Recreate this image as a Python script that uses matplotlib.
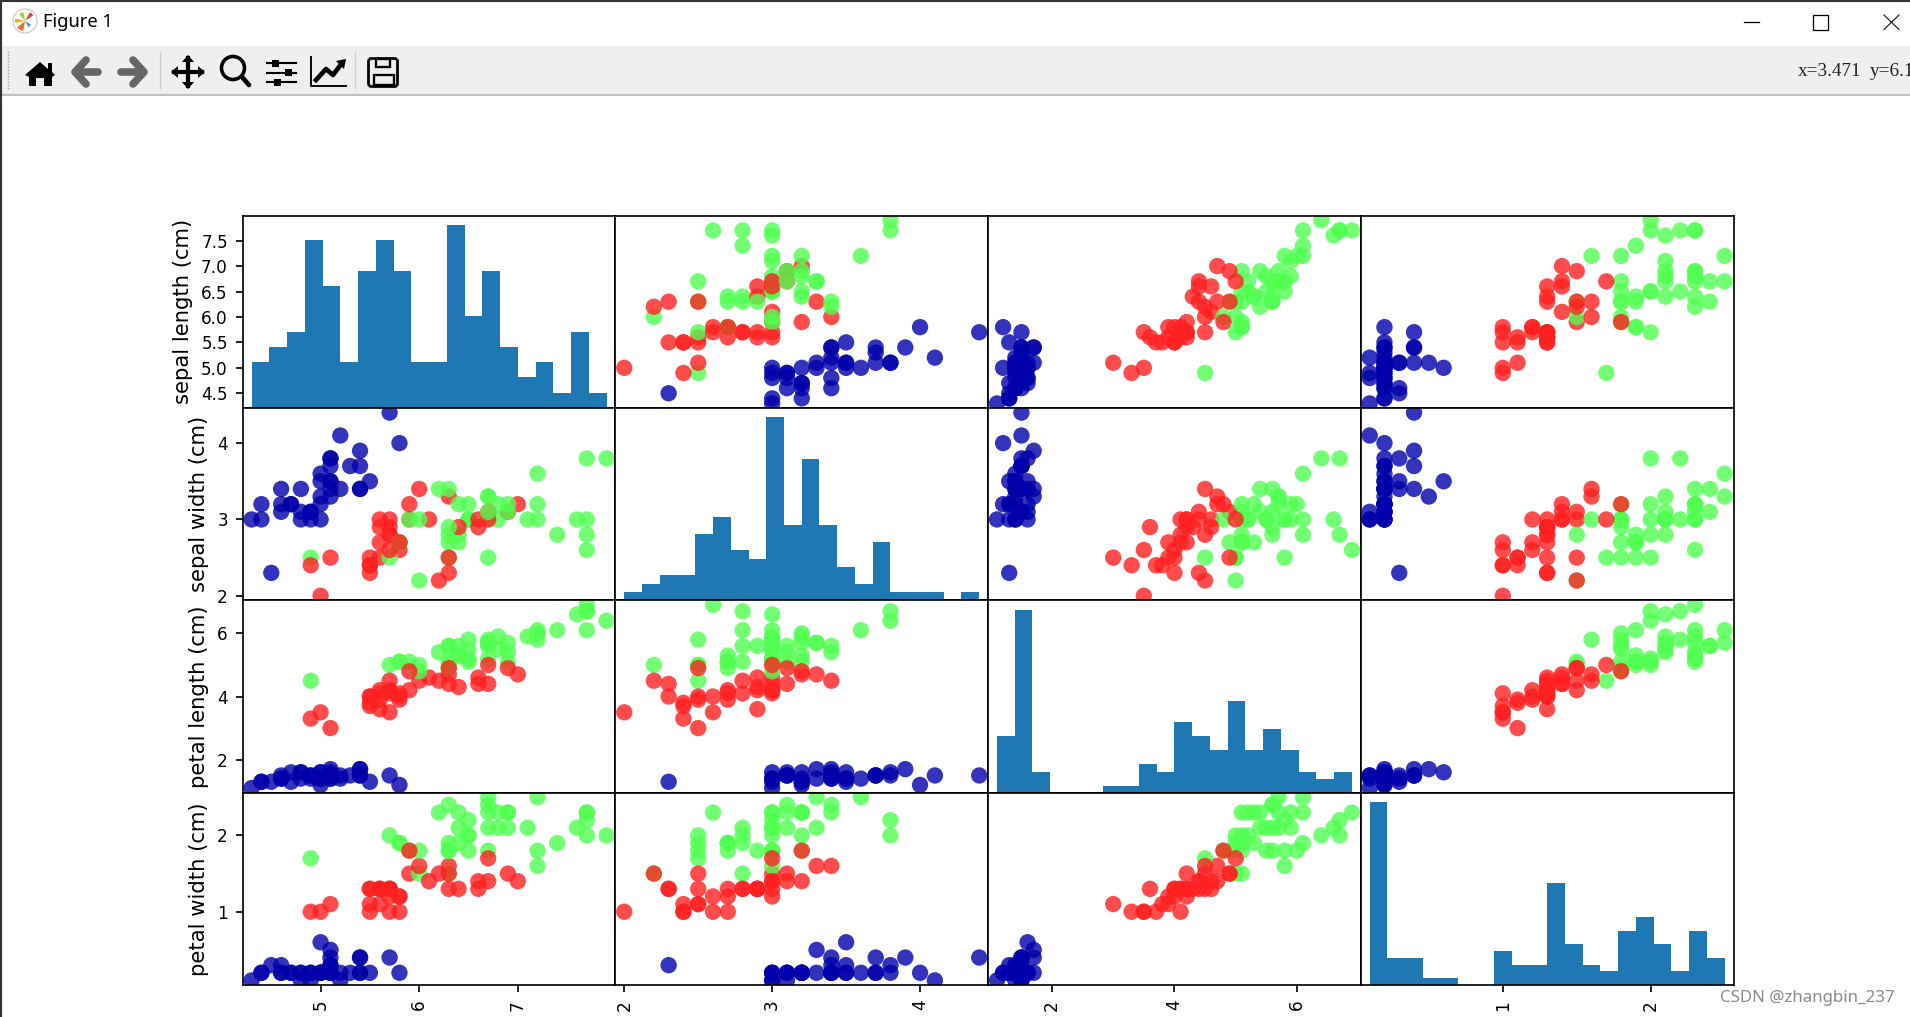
import numpy as np
import pandas as pd
import matplotlib
matplotlib.use('Agg')
import matplotlib.pyplot as plt
from matplotlib.colors import ListedColormap
from matplotlib.patches import Circle, Polygon, Rectangle, FancyBboxPatch, Wedge

sepal_length = [5.9,5.8,6.8,4.7,6.9,5.0,5.4,5.0,6.5,6.7,6.0,6.7,5.6,7.7,6.3,5.5,6.3,6.3,4.9,6.3,7.0,6.5,6.0,4.8,5.8,5.6,5.6,5.5,6.1,7.2,5.3,4.3,6.4,5.7,5.4,5.7,6.9,4.6,5.9,5.1,4.6,6.2,7.2,5.7,4.8,7.1,6.9,6.5,6.4,5.1,4.8,6.5,6.7,4.5,6.2,4.9,5.7,6.9,4.4,5.0,7.2,5.1,4.4,5.4,5.5,6.8,7.6,5.1,4.9,5.2,5.7,6.6,5.0,5.1,6.4,5.4,7.7,4.9,7.9,6.7,5.2,6.0,5.8,7.7,5.1,4.7,7.4,5.0,6.3,5.7,5.8,5.7,6.4,6.7,6.3,6.7,5.0,5.5,6.7,5.8,5.1,6.6,5.6,5.9,6.3,5.5,5.1,4.9,6.3,5.8,7.7,4.6]
sepal_width = [3.0,2.6,3.0,3.2,3.1,3.5,3.7,2.0,3.0,3.3,2.2,2.5,2.5,3.0,3.3,2.4,2.7,2.8,2.5,2.5,3.2,3.0,3.4,3.1,2.7,2.7,2.9,2.5,3.0,3.2,3.7,3.0,2.7,3.0,3.4,4.4,3.1,3.1,3.0,2.5,3.4,2.2,3.6,2.9,3.0,3.0,3.2,3.0,2.8,3.8,3.4,3.2,3.3,2.3,3.4,3.0,2.5,3.1,3.2,3.6,3.0,3.5,3.0,3.9,2.3,3.2,3.0,3.5,3.1,3.4,2.8,3.0,3.2,3.3,2.9,3.4,2.6,2.4,3.8,3.1,4.1,3.0,4.0,2.8,3.8,3.2,2.8,3.3,3.4,2.8,2.7,2.6,3.2,3.0,2.5,3.0,3.0,2.4,3.1,2.7,3.4,2.9,3.0,3.2,2.3,3.5,3.7,3.1,2.9,2.7,3.8,3.2]
petal_length = [4.2,4.0,5.5,1.3,5.1,1.6,1.5,3.5,5.5,5.7,5.0,5.8,3.9,6.1,4.7,3.8,4.9,5.1,4.5,5.0,4.7,5.2,4.5,1.6,5.1,4.2,3.6,4.0,4.6,6.0,1.5,1.1,5.3,4.2,1.7,1.5,4.9,1.5,5.1,3.0,1.4,4.5,6.1,4.2,1.4,5.9,5.7,5.8,5.6,1.6,1.6,5.1,5.7,1.3,5.4,1.4,5.0,5.4,1.3,1.4,5.8,1.4,1.3,1.7,4.0,5.9,6.6,1.4,1.5,1.4,4.5,4.4,1.2,1.7,4.3,1.5,6.9,3.3,6.4,4.4,1.5,4.8,1.2,6.7,1.5,1.6,6.1,1.4,5.6,4.1,3.9,3.5,5.3,5.2,4.9,5.0,1.6,3.7,5.6,5.1,1.5,4.6,4.1,4.8,4.4,1.3,1.5,1.5,5.6,4.1,6.7,1.4]
petal_width = [1.5,1.2,2.1,0.2,2.3,0.6,0.2,1.0,1.8,2.5,1.5,1.8,1.1,2.3,1.6,1.1,1.8,1.5,1.7,1.9,1.4,2.0,1.6,0.2,1.9,1.3,1.3,1.3,1.4,1.8,0.2,0.1,1.9,1.2,0.2,0.4,1.5,0.2,1.8,1.1,0.3,1.5,2.5,1.3,0.1,2.1,2.3,2.2,2.1,0.2,0.2,2.0,2.1,0.3,2.3,0.2,2.0,2.1,0.2,0.2,1.6,0.3,0.2,0.4,1.3,2.3,2.1,0.2,0.2,0.2,1.3,1.4,0.2,0.5,1.3,0.4,2.3,1.0,2.0,1.4,0.1,1.8,0.2,2.0,0.3,0.2,1.9,0.2,2.4,1.3,1.2,1.0,2.3,2.3,1.5,1.7,0.2,1.0,2.4,1.9,0.2,1.3,1.3,1.8,1.3,0.2,0.4,0.1,1.8,1.0,2.2,0.2]
species = [1,1,2,0,2,0,0,1,2,2,2,2,1,2,1,1,2,2,2,2,1,2,1,0,2,1,1,1,1,2,0,0,2,1,0,0,1,0,2,1,0,1,2,1,0,2,2,2,2,0,0,2,2,0,2,0,2,2,0,0,2,0,0,0,1,2,2,0,0,0,1,1,0,0,1,0,2,1,2,1,0,2,0,2,0,0,2,0,2,1,1,1,2,2,1,1,0,1,2,2,0,1,1,1,1,0,0,0,2,1,2,0]

df = pd.DataFrame({'sepal length (cm)': sepal_length, 'sepal width (cm)': sepal_width,
                   'petal length (cm)': petal_length, 'petal width (cm)': petal_width})
cm3 = ListedColormap(['#0000aa', '#ff2020', '#50ff50'])
axes = pd.plotting.scatter_matrix(df, c=species, figsize=(15, 15), marker='o',
                                  hist_kwds={'bins': 20}, s=60, alpha=.8, cmap=cm3)
fig = axes[0, 0].figure
DPI = 152
fig.set_dpi(DPI)
fig.set_size_inches(1910/DPI, 1017/DPI)
fig.subplots_adjust(left=242.7/1910, right=1733.5/1910, top=1-215.7/1017, bottom=1-985/1017, wspace=0, hspace=0)

# the x labels fall below the window in the screenshot
for ax in axes[-1]:
    ax.set_xlabel('')

# window frame and toolbar, drawn in screen pixels
win = fig.add_axes([0, 0, 1, 1], zorder=-1)
win.set_xlim(0, 1910)
win.set_ylim(1017, 0)
win.axis('off')
win.add_patch(Rectangle((0, 46), 1910, 48, fc='#efefef', ec='none'))
win.plot([0, 1910], [94.5, 94.5], color='#c0c0c0', lw=1)
win.plot([0, 1910], [0.5, 0.5], color='#333333', lw=1)
win.plot([1, 1], [0, 1017], color='#333333', lw=1)
win.plot([1744, 1759], [22, 22], color='black', lw=0.6)
win.add_patch(Rectangle((1813, 15), 15, 14.5, fc='none', ec='black', lw=0.6))
win.plot([1884, 1899], [15, 29.5], color='black', lw=0.5)
win.plot([1884, 1899], [29.5, 15], color='black', lw=0.5)
win.text(43, 22, 'Figure 1', family='Noto Sans', fontsize=8.7, va='center', color='black')
fig.text(1798/1910, 1-72/1017, 'x=3.471', family='Liberation Serif', fontsize=9.1, va='center', color='#222222')
fig.text(1870/1910, 1-72/1017, 'y=6.1', family='Liberation Serif', fontsize=9.1, va='center', color='#222222')

# logo
win.add_patch(Circle((25, 21), 12, fc='white', ec='#cccccc', lw=0.6))
win.add_patch(Wedge((25, 21), 10, 100, 140, fc='#e8702a', ec='none'))
win.add_patch(Wedge((25, 21), 10, 170, 195, fc='#f5a623', ec='none'))
win.add_patch(Wedge((25, 21), 9, 230, 260, fc='#9ccc3c', ec='none'))
win.add_patch(Wedge((25, 21), 10, 300, 325, fc='#c05030', ec='none'))
win.add_patch(Wedge((25, 21), 7, 30, 60, fc='#5b8fc9', ec='none'))

# grip dots
win.scatter([7.5]*13, np.arange(52, 90, 3), s=0.6, color='#aaaaaa', lw=0)
# separators
win.plot([159.5, 159.5], [52, 88], color='#cccccc', lw=0.6)
win.plot([354.5, 354.5], [52, 88], color='#cccccc', lw=0.6)
# home
win.add_patch(Polygon([(25, 75), (40, 62), (48, 69), (48, 63), (52, 63), (52, 72), (55, 75), (52, 77), (52, 86), (44, 86), (44, 78), (36, 78), (36, 86), (29, 86), (29, 77)], fc='black', ec='none'))
# back, forward
win.plot([98, 76], [72, 72], color='#666666', lw=3.6, solid_capstyle='round')
win.plot([86, 75, 86], [60, 72, 84], color='#666666', lw=3.6, solid_capstyle='round', solid_joinstyle='round')
win.plot([121, 143], [72, 72], color='#666666', lw=3.6, solid_capstyle='round')
win.plot([133, 144, 133], [60, 72, 84], color='#666666', lw=3.6, solid_capstyle='round', solid_joinstyle='round')
# move
win.plot([174, 202], [72, 72], color='black', lw=2)
win.plot([188, 188], [58, 86], color='black', lw=2)
win.add_patch(Polygon([(171, 72), (178, 66), (178, 78)], fc='black', ec='none'))
win.add_patch(Polygon([(205, 72), (198, 66), (198, 78)], fc='black', ec='none'))
win.add_patch(Polygon([(188, 55), (182, 62), (194, 62)], fc='black', ec='none'))
win.add_patch(Polygon([(188, 89), (182, 82), (194, 82)], fc='black', ec='none'))
# zoom
win.add_patch(Circle((233, 68), 11.5, fc='none', ec='black', lw=1.7))
win.plot([242, 249], [77, 85], color='black', lw=2.2, solid_capstyle='round')
# sliders
for y0, kx in zip([63, 72.5, 82], [275, 288, 277]):
    win.plot([267, 296], [y0, y0], color='black', lw=1)
    win.add_patch(Rectangle((kx-3.5, y0-3.5), 7, 7, fc='black', ec='none'))
# trend icon
win.plot([310.5, 310.5, 346], [57, 86, 86], color='black', lw=0.9)
win.plot([316, 326, 333, 342], [80, 69, 75, 63], color='black', lw=2.2)
win.add_patch(Polygon([(346, 59), (336, 61), (344, 69)], fc='black', ec='none'))
# save
win.add_patch(FancyBboxPatch((370, 60), 26, 25, boxstyle='round,pad=1.5,rounding_size=3', fc='none', ec='black', lw=1.3))
win.add_patch(Rectangle((376, 59), 14, 8, fc='none', ec='black', lw=1.1))
win.add_patch(Rectangle((374, 75), 20, 10, fc='none', ec='black', lw=1.1))

# watermark
fig.text(1895/1910, 1-998/1017, 'CSDN @zhangbin_237', family='Noto Sans', fontsize=8.0,
         color='#8a8a8a', ha='right', va='center')

fig.savefig('out.png', dpi=DPI)
